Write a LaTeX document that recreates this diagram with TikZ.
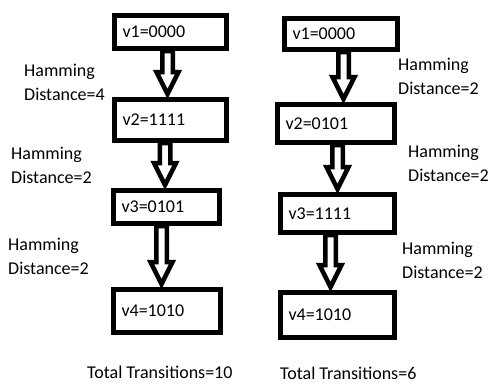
\documentclass[tikz,border=0pt]{standalone}
\usepackage{fontspec}
\setmainfont{Carlito}
\usetikzlibrary{calc}
\tikzset{
  box/.style={draw, line width=5pt, fill=white, inner xsep=8pt, inner ysep=0pt,
    align=left, font=\fontsize{18}{22}\selectfont},
  lbl/.style={anchor=west, inner sep=0pt, align=left, font=\fontsize{18}{24}\selectfont},
  barrow/.style={draw, line width=4.5pt, fill=white, line join=miter},
}
\newcommand\blockarrow[3]{%
  \draw[barrow] let \p1=($(#2.south)+(#1,0)$), \p2=(#3.north) in
    (\x1-5.25pt,\y1) -- (\x1-5.25pt,\y2+25pt) -- (\x1-11pt,\y2+25pt) -- (\x1,\y2+3pt)
    -- (\x1+11pt,\y2+25pt) -- (\x1+5.25pt,\y2+25pt) -- (\x1+5.25pt,\y1) -- cycle;
}
\begin{document}
\begin{tikzpicture}[x=1pt,y=-1pt]
\useasboundingbox[fill=white] (0,0) rectangle (489,383);
% left column
\node[box, minimum height=33pt, text width=96pt] (l1) at (170.5,32) {v1=0000};
\node[box, minimum height=41pt, text width=96pt] (l2) at (170.5,120) {v2=1111};
\node[box, minimum height=33pt, text width=90pt] (l3) at (166.5,207) {v3=0101};
\node[box, minimum height=43pt, text width=91pt] (l4) at (167,311) {v4=1010};
\blockarrow{-3pt}{l1}{l2}
\blockarrow{-5.5pt}{l2}{l3}
\blockarrow{-5pt}{l3}{l4}
\node[lbl] (lh1) at (24,82) {Hamming\\Distance=4};
\node[lbl] (lh2) at (11,165) {Hamming\\Distance=2};
\node[lbl] (lh3) at (8,256.5) {Hamming\\Distance=2};
\node[lbl] (lt) at (87,372) {Total Transitions=10};
% right column
\node[box, minimum height=31pt, text width=97pt] (r1) at (341,34) {v1=0000};
\node[box, minimum height=38pt, text width=101pt] (r2) at (336,123.5) {v2=0101};
\node[box, minimum height=38pt, text width=98pt] (r3) at (337.5,213.5) {v3=1111};
\node[box, minimum height=45pt, text width=98pt] (r4) at (337.5,315) {v4=1010};
\blockarrow{2.5pt}{r1}{r2}
\blockarrow{1.5pt}{r2}{r3}
\blockarrow{-7pt}{r3}{r4}
\node[lbl] (rh1) at (398,76.5) {Hamming\\Distance=2};
\node[lbl] (rh2) at (408,163.5) {Hamming\\Distance=2};
\node[lbl] (rh3) at (402,260) {Hamming\\Distance=2};
\node[lbl] (rt) at (280,373) {Total Transitions=6};
\end{tikzpicture}
\end{document}
